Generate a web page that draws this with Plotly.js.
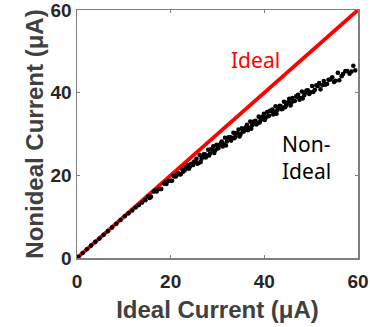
<!DOCTYPE html>
<html><head><meta charset="utf-8">
<script src="https://cdn.plot.ly/plotly-3.0.1.min.js"></script>
<style>html,body{margin:0;padding:0;background:#fff}#c{width:370px;height:327px}</style>
</head><body><div id="c"></div>
<script>
const idealX = [0, 60];
const idealY = [0, 60];
const nonIdealX = [0.3,1.2,2.1,3.0,3.9,4.8,5.7,6.6,7.5,8.4,9.3,10.2,11.0,11.8,12.5,13.2,13.9,14.6,
15.2,15.8,16.4,17.0,17.5,18.0,18.6,19.1,19.6,20.1,20.6,21.1,21.6,22.0,22.5,23.0,23.4,23.9,24.4,24.8,
25.3,25.7,26.2,26.6,27.1,27.5,28.0,28.4,28.9,29.3,29.8,30.2,30.7,31.1,31.6,32.0,32.5,32.9,33.4,33.8,
34.3,34.7,35.2,35.6,36.1,36.5,37.0,37.4,37.9,38.3,38.8,39.2,39.7,40.1,40.6,41.0,41.5,41.9,42.4,42.8,
43.3,43.7,44.2,44.6,45.1,45.6,46.0,46.5,47.0,47.5,48.0,48.5,49.0,49.6,50.2,50.8,51.4,52.0,52.7,53.4,
54.1,54.9,55.7,56.5,57.3,58.2,59.0,
15.5,16.7,17.8,19.0,20.3,21.4,22.7,23.7,24.6,25.5,26.4,27.3,28.2,29.1,30.0,30.9,31.8,32.7,33.6,34.5,
35.4,36.3,37.2,38.1,39.0,39.9,40.8,41.7,42.6,43.5,44.4,45.3,46.2,47.2,48.2,49.3,50.5,51.7,53.0,54.5,
56.0,57.7,59.4,
20.8,22.2,23.2,24.1,25.0,25.9,26.8,27.7,28.6,29.5,30.4,31.3,32.2,33.1,34.0,34.9,35.8,36.7,37.6,38.5,
39.4,40.3,41.2,42.1,43.0,43.9,44.8,45.8,46.8,47.8,48.8,49.9,51.1,52.4,53.7,55.2,56.8,58.6];
const nonIdealY = [0.3,1.2,2.1,3.0,3.9,4.7,5.6,6.5,7.4,8.3,9.2,10.1,10.8,11.5,12.2,12.8,13.4,14.0,
14.9,14.8,16.1,16.1,16.7,16.7,18.0,17.9,18.7,18.7,19.9,19.7,20.5,20.2,21.4,21.2,21.7,21.6,22.8,22.5,
23.4,22.8,24.9,24.0,25.1,24.3,26.2,25.3,26.2,25.4,27.4,26.6,27.7,27.0,29.1,28.2,29.2,28.4,30.3,29.4,
30.2,29.4,31.4,30.6,31.7,30.9,33.0,32.1,33.1,32.3,34.2,33.3,34.2,33.4,35.3,34.4,35.5,34.7,36.7,35.8,
36.8,36.0,37.8,36.8,37.7,36.9,38.7,38.0,39.0,38.3,40.3,39.4,40.5,39.7,41.6,40.7,41.6,40.8,42.8,42.1,
43.2,42.6,44.8,44.0,45.2,44.6,46.5,
14.5,16.3,16.7,18.3,18.7,20.2,20.9,22.4,22.5,24.0,23.2,25.1,24.8,27.0,26.5,28.2,27.2,29.2,29.0,31.1,
30.6,32.2,31.3,33.2,32.8,34.9,34.3,35.9,34.9,36.7,36.5,38.5,38.0,39.5,38.6,40.6,40.2,42.3,41.9,43.7,
43.0,45.2,45.4,
19.7,20.3,22.0,22.1,23.3,23.0,24.4,24.8,26.3,26.0,27.4,27.5,29.1,29.1,30.2,29.9,31.3,31.5,32.9,32.6,
34.0,34.0,35.6,35.4,36.5,36.1,37.4,37.6,39.1,38.7,40.0,40.1,41.8,41.8,43.1,42.9,44.5,45.1];
const tickVals = [0, 20, 40, 60];
const tickText = ['0', '20', '40', '60'];

const axisCommon = {
  range: [0, 60], tickvals: tickVals, ticktext: tickText,
  ticks: 'inside', ticklen: 3, tickcolor: '#808080', tickwidth: 1,
  showline: true, linecolor: '#808080', linewidth: 1.5, mirror: 'ticks',
  showgrid: false, zeroline: false, fixedrange: true,
  ticklabeloverflow: 'allow',
  tickfont: {family: 'Liberation Sans, Arial, sans-serif', size: 19, color: '#262626', weight: 'bold'}
};
const titleFont = {family: 'Liberation Sans, Arial, sans-serif', size: 24, color: '#404040', weight: 'bold'};
const data = [
  {x: idealX, y: idealY, mode: 'lines', line: {color: '#ff0000', width: 3.8}, hoverinfo: 'skip', cliponaxis: false},
  {x: nonIdealX, y: nonIdealY, mode: 'markers', marker: {color: '#000000', size: 4.6}, hoverinfo: 'skip'}
];
const layout = {
  width: 370, height: 327,
  margin: {l: 77, r: 12, t: 10, b: 69},
  showlegend: false,
  paper_bgcolor: '#fff', plot_bgcolor: '#fff',
  xaxis: Object.assign({}, axisCommon, {ticklabelstandoff: 6,
    title: {text: 'Ideal Current (μA)', standoff: 10, font: titleFont}}),
  yaxis: Object.assign({}, axisCommon, {title: {text: 'Nonideal Current (μA)', standoff: 0, font: titleFont}}),
  annotations: [
    {x: 38.2, y: 47.9, xref: 'x', yref: 'y', text: 'Ideal', showarrow: false,
      font: {family: 'Noto Sans, sans-serif', size: 21, color: '#ff0000'}},
    {x: 43.3, y: 24.2, xref: 'x', yref: 'y', text: 'Non-<br>Ideal', showarrow: false, align: 'left', xanchor: 'left',
      font: {family: 'Noto Sans, sans-serif', size: 21, color: '#000000'}}
  ]
};
Plotly.newPlot('c', data, layout, {staticPlot: true, displayModeBar: false});
</script>
</body></html>
